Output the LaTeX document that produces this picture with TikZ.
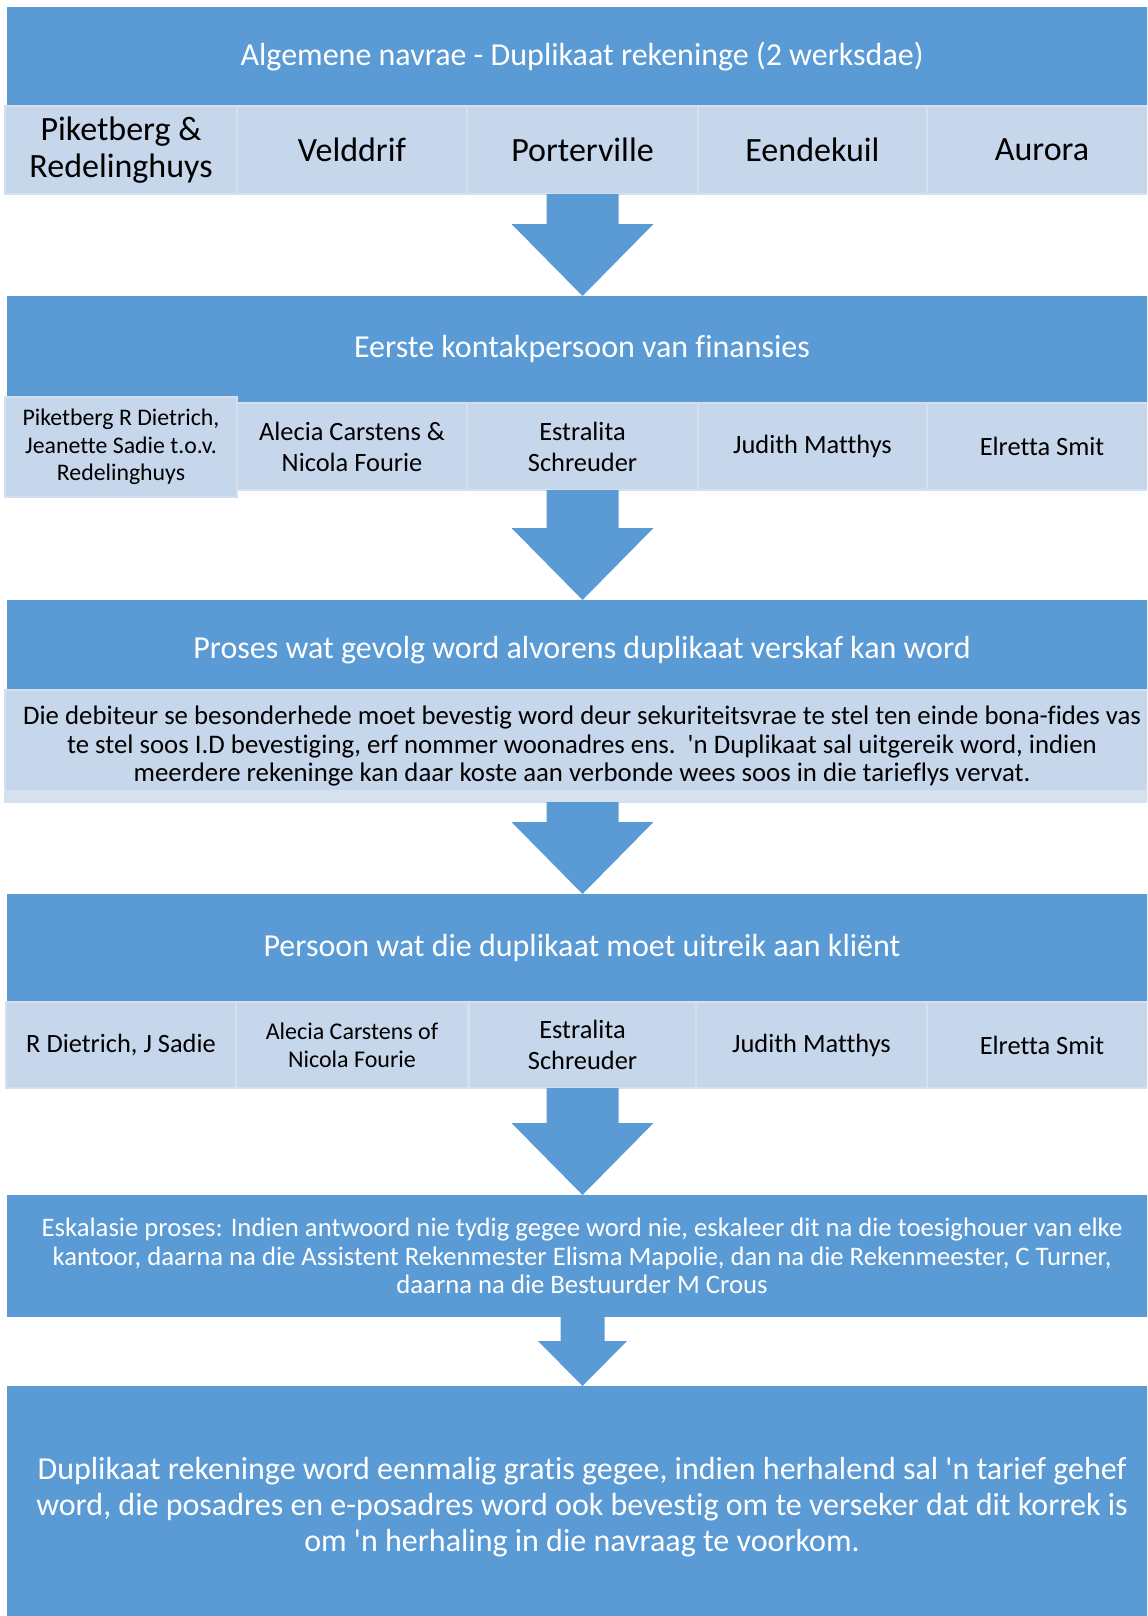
\documentclass[tikz,border=0pt]{standalone}
\usepackage{fontspec}
\setmainfont{Carlito}[Ligatures={TeX,NoCommon}]
\usetikzlibrary{calc}
\definecolor{boxblue}{HTML}{5B9BD5}
\definecolor{cellblue}{HTML}{C6D6EB}
\definecolor{cellline}{HTML}{D4E0F0}
\definecolor{bandblue}{HTML}{D6E1F0}

\tikzset{
  header/.style={fill=boxblue, text=white, minimum width=575pt, inner sep=0pt, outer sep=0pt, align=center},
  cell/.style={fill=cellblue, draw=cellline, line width=1pt, inner sep=0pt, outer sep=0pt, align=center, text=black},
  bigfont/.style={font=\fontsize{16}{19}\selectfont},
  cellfont/.style={font=\fontsize{13.2}{15.5}\selectfont},
}

% block arrow: start, tip, half shaft, half head, head length
\newcommand{\flowarrow}[5]{%
  \fill[boxblue] let \p1=(#1), \p2=(#2) in
    (\x1-#3,\y1) -- (\x1+#3,\y1) -- (\x1+#3,\y2+#5) -- (\x1+#4,\y2+#5)
    -- (\x1,\y2) -- (\x1-#4,\y2+#5) -- (\x1-#3,\y2+#5) -- cycle;}

\begin{document}
\begin{tikzpicture}[x=0.5pt,y=-0.5pt]
\clip (0,0) rectangle (1147,1616);
% first box
\node[header, bigfont, minimum height=49.5pt] (head1) at (582,56.5) {Algemene navrae - Duplikaat rekeninge (2 werksdae)};
\node[cell, minimum width=116pt, minimum height=44pt, font=\fontsize{17}{18.5}\selectfont] (town1) at (121,150) {Piketberg \&\\Redelinghuys};
\node[cell, minimum width=115pt, minimum height=44pt, font=\fontsize{17}{18.5}\selectfont] (town2) at (352,150) {Velddrif};
\node[cell, minimum width=115.5pt, minimum height=44pt, font=\fontsize{17}{18.5}\selectfont] (town3) at (582.5,150) {Porterville};
\node[cell, minimum width=114.5pt, minimum height=44pt, font=\fontsize{17}{18.5}\selectfont] (town4) at (812.5,150) {Eendekuil};
\node[cell, minimum width=115pt, minimum height=44pt, font=\fontsize{17}{18.5}\selectfont] (town5) at (1042,150) {Aurora};

% second box
\node[header, bigfont, minimum height=53pt] (head2) at (582,349) {Eerste kontakpersoon van finansies};
\node[cell, minimum width=115pt, minimum height=43.5pt, cellfont] (fin2) at (352,446.5) {Alecia Carstens \&\\Nicola Fourie};
\node[cell, minimum width=115.5pt, minimum height=43.5pt, cellfont] (fin3) at (582.5,446.5) {Estralita\\Schreuder};
\node[cell, minimum width=114.5pt, minimum height=43.5pt, cellfont] (fin4) at (812.5,446.5) {Judith Matthys};
\node[cell, minimum width=115pt, minimum height=43.5pt, cellfont] (fin5) at (1042,446.5) {Elretta Smit};
\node[cell, minimum width=116pt, minimum height=50pt, font=\fontsize{11.9}{13.7}\selectfont] (fin1) at (121,447) {Piketberg R Dietrich,\\Jeanette Sadie t.o.v.\\Redelinghuys};

% third box
\node[header, bigfont, minimum height=45pt, text height=17pt, text depth=3.2pt] (head3) at (582,645) {Proses wat gevolg word alvorens duplikaat verskaf kan word};
\node[cell, minimum width=577pt, minimum height=56pt, font=\fontsize{13.4}{14.2}\selectfont] (proc) at (582,746) {Die debiteur se besonderhede moet bevestig word deur sekuriteitsvrae te stel ten einde bona-fides vas\\te stel soos I.D bevestiging, erf nommer woonadres ens.\ \ \textquotesingle{}n Duplikaat sal uitgereik word, indien\\meerdere rekeninge kan daar koste aan verbonde wees soos in die tarieflys vervat.};
\node[fill=bandblue, minimum width=577pt, minimum height=6pt, inner sep=0pt, outer sep=0pt] (band) at (582,796) {};

% fourth box
\node[header, bigfont, minimum height=54pt] (head4) at (582,948) {Persoon wat die duplikaat moet uitreik aan kli\"ent};
\node[cell, minimum width=115pt, minimum height=43pt, cellfont] (issue1) at (121,1045) {R Dietrich, J Sadie};
\node[cell, minimum width=116pt, minimum height=43pt, font=\fontsize{12}{14}\selectfont] (issue2) at (352,1045) {Alecia Carstens of\\Nicola Fourie};
\node[cell, minimum width=114pt, minimum height=43pt, cellfont] (issue3) at (582.5,1045) {Estralita\\Schreuder};
\node[cell, minimum width=115.5pt, minimum height=43pt, cellfont] (issue4) at (811.5,1045) {Judith Matthys};
\node[cell, minimum width=115pt, minimum height=43pt, cellfont] (issue5) at (1042,1045) {Elretta Smit};

% escalation and last box
\node[header, minimum height=61pt, font=\fontsize{13.35}{14.4}\selectfont] (escal) at (582,1256) {Eskalasie proses: Indien antwoord nie tydig gegee word nie, eskaleer dit na die toesighouer van elke\\kantoor, daarna na die Assistent Rekenmester Elisma Mapolie, dan na die Rekenmeester, C Turner,\\daarna na die Bestuurder M Crous};
\node[header, minimum height=121pt, font=\fontsize{16}{18}\selectfont] (final) at (582,1507) {Duplikaat rekeninge word eenmalig gratis gegee, indien herhalend sal \textquotesingle{}n tarief gehef\\word, die posadres en e-posadres word ook bevestig om te verseker dat dit korrek is\\om \textquotesingle{}n herhaling in die navraag te voorkom.};

% arrows
\flowarrow{town3.south}{town3.south |- head2.north}{18pt}{35.5pt}{36pt}
\flowarrow{fin3.south}{fin3.south |- head3.north}{18pt}{35.5pt}{36pt}
\flowarrow{band.south -| fin3.south}{fin3.south |- head4.north}{18pt}{35.5pt}{36pt}
\flowarrow{issue3.south}{issue3.south |- escal.north}{18pt}{35.5pt}{36pt}
\flowarrow{escal.south -| issue3.south}{issue3.south |- final.north}{11pt}{22.25pt}{22.5pt}
\end{tikzpicture}
\end{document}
